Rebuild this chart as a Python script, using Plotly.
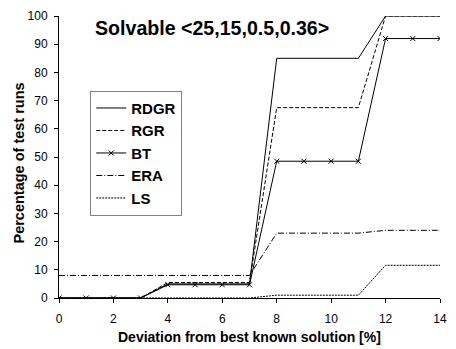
import plotly.graph_objects as go

# Deviation from best known solution [%]
deviation = list(range(0, 15))

# Percentage of test runs reaching each deviation, per algorithm
rdgr = [0, 0, 0, 0, 5, 5, 5, 5, 85, 85, 85, 85, 100, 100, 100]
rgr = [0, 0, 0, 0, 5.5, 5.5, 5.5, 5.5, 67.5, 67.5, 67.5, 67.5, 100, 100, 100]
bt = [0, 0, 0, 0, 4.7, 4.7, 4.7, 4.7, 48.5, 48.5, 48.5, 48.5, 92, 92, 92]
era = [8, 8, 8, 8, 8, 8, 8, 8, 23, 23, 23, 23, 24, 24, 24]
ls = [0, 0, 0, 0, 0, 0, 0, 0, 1, 1, 1, 1, 11.6, 11.6, 11.6]

x_ticks = [0, 2, 4, 6, 8, 10, 12, 14]
y_ticks = [0, 10, 20, 30, 40, 50, 60, 70, 80, 90, 100]

FONT = "Liberation Sans, Arial, sans-serif"

fig = go.Figure()

series = [
    ("RDGR", rdgr, "solid", None),
    ("RGR", rgr, "4px,2px", None),
    ("BT", bt, "solid", "x-thin"),
    ("ERA", era, "6px,2px,1px,2px", None),
    ("LS", ls, "2px,1px", None),
]

for name, values, dash, symbol in series:
    fig.add_trace(go.Scatter(
        x=deviation,
        y=values,
        name=f"<b>{name}</b>",
        mode="lines+markers" if symbol else "lines",
        line=dict(color="black", width=1, dash=dash),
        marker=dict(symbol=symbol, size=5, color="black",
                    line=dict(color="black", width=1)) if symbol else None,
    ))

fig.update_layout(
    width=456,
    height=349,
    margin=dict(l=59, r=9, t=12, b=51),
    paper_bgcolor="white",
    plot_bgcolor="white",
    font=dict(family=FONT, color="black", size=12),
    showlegend=True,
    legend=dict(
        x=0.082, y=0.735, xanchor="left", yanchor="top",
        bgcolor="white", bordercolor="#808080", borderwidth=1,
        font=dict(family=FONT, size=15, color="black"),
        itemwidth=30,
        tracegroupgap=0,
    ),
    xaxis=dict(
        range=[0, 14],
        tickmode="array", tickvals=x_ticks,
        showgrid=False, zeroline=False,
        showline=True, linecolor="black", linewidth=1,
        ticks="outside", ticklen=4, tickcolor="black",
        tickfont=dict(size=12),
        ticklabelstandoff=6,
    ),
    yaxis=dict(
        range=[0, 100],
        tickmode="array", tickvals=y_ticks,
        showgrid=False, zeroline=False,
        showline=True, linecolor="black", linewidth=1,
        ticks="outside", ticklen=4, tickcolor="black",
        tickfont=dict(size=12),
        ticklabelstandoff=4,
    ),
    annotations=[
        dict(text="<b>Solvable &lt;25,15,0.5,0.36&gt;</b>",
             xref="paper", yref="paper", x=0.09, y=0.958,
             xanchor="left", yanchor="middle", showarrow=False,
             font=dict(family=FONT, size=19.6, color="black")),
        dict(text="<b>Deviation from best known solution [%]</b>",
             xref="paper", yref="paper", x=0.5, y=-0.14,
             xanchor="center", yanchor="middle", showarrow=False,
             font=dict(family=FONT, size=14, color="black")),
        dict(text="<b>Percentage of test runs</b>",
             xref="paper", yref="paper", x=-0.106, y=(298 - 161) / 286,
             xanchor="center", yanchor="middle", showarrow=False, textangle=-90,
             font=dict(family=FONT, size=14.5, color="black")),
    ],
)

fig.write_html("out.html")
